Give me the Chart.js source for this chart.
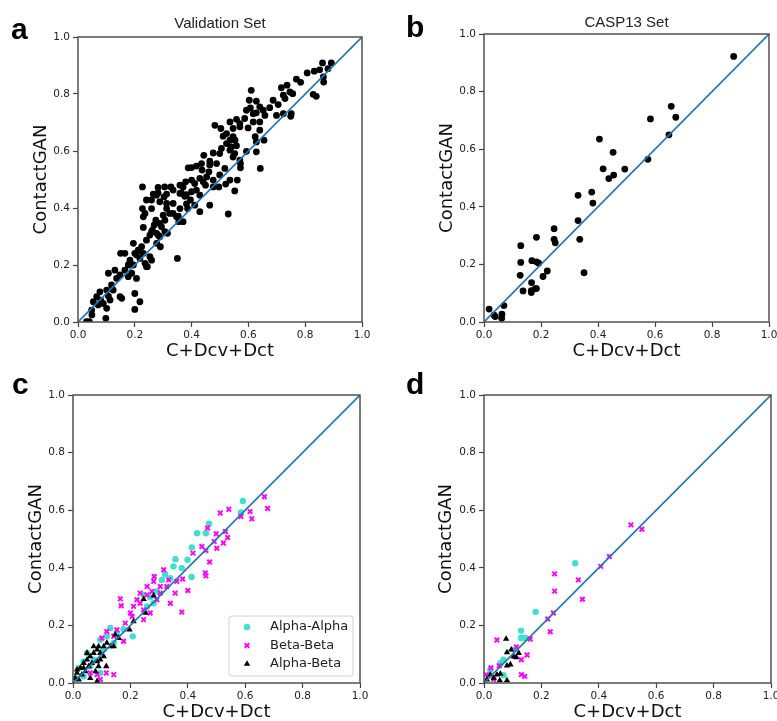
<!DOCTYPE html>
<html><head><meta charset="utf-8">
<script src="https://cdn.jsdelivr.net/npm/chart.js@4"></script>
<style>
html,body{margin:0;padding:0;background:#fff;}
#wrap{position:relative;width:777px;height:721px;overflow:hidden;background:#fff;}
canvas{position:absolute;}
</style></head><body>
<div id="wrap">
<canvas id="ca" width="388" height="360" style="left:0;top:0"></canvas>
<canvas id="cb" width="389" height="360" style="left:388px;top:0"></canvas>
<canvas id="cc" width="388" height="361" style="left:0;top:360px"></canvas>
<canvas id="cd" width="389" height="361" style="left:388px;top:360px"></canvas>
</div>
<script>
// ---------------- DATA ----------------
const tickLabels = ['0.0','0.2','0.4','0.6','0.8','1.0'];
const xAxisTitle = 'C+Dcv+Dct';
const yAxisTitle = 'ContactGAN';
const seriesNames = ['Alpha-Alpha','Beta-Beta','Alpha-Beta'];
const diagonal = [[0,0],[1,1]];

// Panel a: Validation Set
const validationSet = [
[0.861,0.909],[0.892,0.909],[0.832,0.880],[0.807,0.874],[0.851,0.885],[0.880,0.889],[0.769,0.852],[0.784,0.841],[0.736,0.831],[0.716,0.822],[0.723,0.796],[0.746,0.807],[0.729,0.784],[0.756,0.801],[0.828,0.799],[0.839,0.792],[0.865,0.842],[0.864,0.860],
[0.610,0.813],[0.603,0.778],[0.628,0.775],[0.687,0.778],[0.675,0.752],[0.705,0.763],[0.640,0.755],[0.593,0.743],[0.558,0.711],[0.535,0.702],[0.587,0.714],[0.570,0.685],[0.617,0.731],[0.628,0.734],[0.607,0.751],[0.652,0.743],[0.617,0.702],[0.699,0.725],[0.723,0.731],[0.751,0.731],[0.749,0.722],[0.658,0.725],[0.640,0.702],[0.570,0.696],[0.546,0.679],[0.599,0.681],[0.640,0.673],[0.624,0.650],[0.655,0.638],[0.628,0.632],[0.593,0.599],[0.628,0.597],
[0.482,0.690],[0.503,0.679],[0.523,0.661],[0.546,0.650],[0.511,0.652],[0.535,0.638],[0.553,0.638],[0.523,0.626],[0.540,0.614],[0.558,0.618],[0.505,0.609],[0.535,0.603],[0.499,0.591],[0.476,0.593],[0.546,0.579],[0.552,0.591],[0.488,0.556],[0.517,0.539],[0.572,0.556],[0.572,0.541],[0.561,0.498],[0.535,0.498],[0.520,0.484],[0.552,0.460],[0.496,0.474],[0.461,0.527],[0.464,0.564],[0.443,0.585],[0.435,0.556],[0.417,0.547],[0.400,0.542],[0.388,0.541],[0.400,0.498],[0.379,0.492],[0.370,0.474],[0.364,0.453],[0.382,0.447],[0.400,0.457],[0.417,0.463],[0.411,0.486],[0.437,0.533],[0.453,0.509],[0.441,0.492],[0.476,0.498],[0.449,0.480],[0.476,0.474],[0.429,0.504],[0.429,0.445],[0.464,0.410],[0.429,0.387],[0.529,0.379],[0.642,0.539],[0.570,0.568],[0.464,0.551],[0.499,0.516],
[0.396,0.428],[0.382,0.414],[0.411,0.410],[0.386,0.398],[0.359,0.398],[0.353,0.371],[0.370,0.352],[0.355,0.352],[0.323,0.381],[0.312,0.398],[0.335,0.416],[0.312,0.449],[0.282,0.472],[0.276,0.445],[0.288,0.422],[0.303,0.439],[0.259,0.428],[0.241,0.428],[0.259,0.398],[0.300,0.375],[0.306,0.357],[0.288,0.346],[0.294,0.334],[0.268,0.340],[0.262,0.322],[0.274,0.357],[0.259,0.317],[0.253,0.305],[0.236,0.381],[0.227,0.398],[0.230,0.332],[0.227,0.474],[0.277,0.276],[0.290,0.264],[0.288,0.299],[0.241,0.287],[0.224,0.264],[0.212,0.252],[0.206,0.235],[0.200,0.241],[0.230,0.241],[0.218,0.223],[0.241,0.194],[0.236,0.206],[0.165,0.241],[0.150,0.241],[0.195,0.276],[0.183,0.217],[0.177,0.200],[0.195,0.200],[0.189,0.171],[0.177,0.159],[0.206,0.153],[0.165,0.182],[0.148,0.165],[0.130,0.182],[0.136,0.153],[0.118,0.130],[0.107,0.171],[0.124,0.112],[0.101,0.112],[0.113,0.077],[0.101,0.048],[0.098,0.013],[0.107,0.091],[0.077,0.106],[0.066,0.089],[0.080,0.077],[0.089,0.065],[0.071,0.060],[0.054,0.071],[0.048,0.042],[0.049,0.025],[0.030,0.001],[0.040,0.001],[0.154,0.083],[0.148,0.089],[0.200,0.044],[0.218,0.071],[0.200,0.100],[0.253,0.229],[0.259,0.217],[0.244,0.194],[0.350,0.223],[0.230,0.369],[0.265,0.449],[0.282,0.453],[0.335,0.381],[0.347,0.369],[0.335,0.463],[0.359,0.451],[0.376,0.441],[0.327,0.474],[0.305,0.474],[0.359,0.480],[0.312,0.416],[0.315,0.311],[0.284,0.303],[0.277,0.311],[0.306,0.317]
];

// Panel b: CASP13 Set
const casp13Set = [
[0.876,0.922],[0.657,0.749],[0.673,0.711],[0.584,0.705],[0.649,0.650],[0.575,0.565],[0.405,0.635],[0.453,0.589],[0.418,0.532],[0.455,0.510],[0.438,0.498],[0.494,0.531],[0.330,0.440],[0.378,0.451],[0.382,0.413],[0.330,0.352],[0.336,0.287],[0.351,0.171],[0.246,0.324],[0.246,0.287],[0.250,0.275],[0.129,0.265],[0.184,0.294],[0.129,0.207],[0.168,0.213],[0.184,0.209],[0.192,0.204],[0.127,0.162],[0.222,0.177],[0.207,0.158],[0.167,0.137],[0.137,0.108],[0.166,0.109],[0.166,0.102],[0.180,0.116],[0.184,0.116],[0.018,0.045],[0.035,0.024],[0.039,0.019],[0.063,0.027],[0.062,0.013],[0.070,0.057]
];

// Panel c: validation set by contact type
const cAlphaAlpha = [
[0.592,0.632],[0.585,0.592],[0.474,0.553],[0.432,0.520],[0.463,0.520],[0.414,0.471],[0.357,0.430],[0.399,0.428],[0.413,0.368],[0.379,0.399],[0.321,0.378],[0.292,0.318],[0.246,0.306],[0.269,0.298],[0.208,0.162],[0.130,0.191],[0.176,0.187],[0.118,0.162],[0.095,0.150],[0.049,0.104],[0.037,0.075],[0.020,0.052],[0.095,0.035],[0.153,0.173],[0.339,0.364],[0.350,0.405],[0.310,0.358],[0.258,0.266],[0.281,0.277],[0.072,0.081],[0.107,0.116],[0.037,0.023],[0.008,0.017],[0.060,0.058],[0.142,0.139]
];
const cBetaBeta = [
[0.667,0.647],[0.678,0.606],[0.543,0.603],[0.513,0.590],[0.617,0.595],[0.623,0.570],[0.585,0.578],[0.469,0.538],[0.499,0.518],[0.492,0.491],[0.531,0.526],[0.539,0.505],[0.524,0.486],[0.501,0.468],[0.449,0.474],[0.418,0.451],[0.463,0.460],[0.476,0.420],[0.461,0.382],[0.463,0.372],[0.400,0.321],[0.379,0.246],[0.356,0.312],[0.339,0.277],[0.382,0.361],[0.316,0.393],[0.283,0.370],[0.281,0.353],[0.304,0.335],[0.327,0.335],[0.258,0.335],[0.234,0.312],[0.223,0.289],[0.211,0.266],[0.200,0.243],[0.246,0.254],[0.269,0.243],[0.246,0.220],[0.165,0.292],[0.168,0.268],[0.176,0.145],[0.142,0.029],[0.116,0.035],[0.084,0.029],[0.095,0.012],[0.060,0.035],[0.101,0.156],[0.118,0.179],[0.153,0.185],[0.292,0.289],[0.304,0.312],[0.234,0.277],[0.206,0.231],[0.182,0.208],[0.142,0.162],[0.275,0.318],[0.333,0.358],[0.362,0.353],[0.258,0.306]
];
const cAlphaBeta = [
[0.246,0.291],[0.281,0.303],[0.253,0.243],[0.211,0.214],[0.197,0.185],[0.147,0.168],[0.130,0.127],[0.118,0.139],[0.089,0.127],[0.084,0.116],[0.072,0.104],[0.060,0.092],[0.049,0.081],[0.037,0.069],[0.026,0.052],[0.014,0.035],[0.008,0.017],[0.095,0.104],[0.107,0.092],[0.116,0.058],[0.084,0.075],[0.066,0.069],[0.055,0.058],[0.043,0.040],[0.031,0.029],[0.078,0.040],[0.060,0.017],[0.084,0.006],[0.142,0.127],[0.159,0.156],[0.095,0.081],[0.072,0.127],[0.049,0.104],[0.020,0.012],[0.037,0.052],[0.107,0.127],[0.014,0.046],[0.089,0.058]
];

// Panel d: CASP13 set by contact type
const dAlphaAlpha = [
[0.318,0.416],[0.180,0.247],[0.129,0.182],[0.129,0.156],[0.144,0.156],[0.068,0.081],[0.057,0.069],[0.068,0.027],[0.103,0.116],[0.022,0.046]
];
const dBetaBeta = [
[0.512,0.549],[0.550,0.534],[0.437,0.439],[0.407,0.405],[0.246,0.379],[0.329,0.358],[0.246,0.319],[0.343,0.291],[0.242,0.243],[0.222,0.222],[0.231,0.178],[0.161,0.153],[0.113,0.125],[0.150,0.097],[0.130,0.081],[0.130,0.029],[0.142,0.023],[0.045,0.149],[0.024,0.053],[0.053,0.060],[0.008,0.029],[0.034,0.012],[0.107,0.092]
];
const dAlphaBeta = [
[0.077,0.153],[0.080,0.106],[0.095,0.116],[0.103,0.092],[0.113,0.089],[0.092,0.064],[0.080,0.060],[0.057,0.032],[0.045,0.029],[0.034,0.017],[0.010,0.012],[0.055,0.009],[0.080,0.009],[0.022,0.029],[0.121,0.104]
];

// ---------------- RENDERING ----------------
Chart.defaults.font.family = '"DejaVu Sans", sans-serif';
const toXY = arr => arr.map(([x, y]) => ({x, y}));

const framePlugin = {
  id: 'axesFrame',
  afterDatasetsDraw(chart) {
    const {ctx, chartArea: a} = chart;
    ctx.save();
    ctx.strokeStyle = '#505050';
    ctx.lineWidth = 1.5;
    ctx.strokeRect(a.left, a.top, a.right - a.left, a.bottom - a.top);
    ctx.restore();
  }
};

const letterPlugin = {
  id: 'panelLetter',
  afterDraw(chart, args, opts) {
    if (!opts || !opts.text) return;
    const ctx = chart.ctx;
    ctx.save();
    ctx.fillStyle = '#000';
    ctx.font = 'bold ' + opts.size + 'px "Liberation Sans", Arial, sans-serif';
    ctx.textBaseline = 'alphabetic';
    ctx.textAlign = 'left';
    ctx.fillText(opts.text, opts.x, opts.y);
    ctx.restore();
  }
};

const boxLegendPlugin = {
  id: 'boxLegend',
  afterDraw(chart, args, opts) {
    if (!opts || !opts.show) return;
    const ctx = chart.ctx, a = chart.chartArea;
    const items = chart.data.datasets.filter(d => d.label);
    const x0 = a.right - opts.marginRight - opts.width;
    const y0 = a.bottom - opts.marginBottom - opts.height;
    ctx.save();
    ctx.beginPath();
    ctx.roundRect(x0, y0, opts.width, opts.height, 3);
    ctx.fillStyle = 'rgba(255,255,255,0.85)';
    ctx.fill();
    ctx.strokeStyle = '#d0d0d0';
    ctx.lineWidth = 1;
    ctx.stroke();
    items.forEach((ds, i) => {
      const cy = y0 + opts.firstRow + i * opts.rowHeight;
      ctx.fillStyle = ds.backgroundColor;
      ctx.strokeStyle = ds.borderColor;
      ctx.lineWidth = ds.borderWidth || 1;
      Chart.helpers.drawPoint(ctx, {pointStyle: ds.pointStyle, radius: ds.pointRadius, rotation: 0, borderWidth: ds.borderWidth}, x0 + opts.markerX, cy);
      ctx.fillStyle = '#222';
      ctx.font = '13px "DejaVu Sans", sans-serif';
      ctx.textBaseline = 'middle';
      ctx.textAlign = 'left';
      ctx.fillText(ds.label, x0 + opts.textX, cy);
    });
    ctx.restore();
  }
};

function guideDataset() {
  return {data: toXY(diagonal), showLine: true, pointRadius: 0, borderColor: '#1f77b4', borderWidth: 1.6, order: 0, clip: 0};
}
function blackDots(points) {
  return {data: toXY(points), pointStyle: 'circle', pointRadius: 3.4, backgroundColor: '#000', borderColor: '#000', borderWidth: 0, showLine: false, order: 1, clip: 0};
}
function typedDatasets(aa, bb, ab) {
  return [
    {label: seriesNames[0], data: toXY(aa), pointStyle: 'circle', pointRadius: 3.2, backgroundColor: '#40e0d0', borderColor: '#40e0d0', borderWidth: 0, showLine: false, order: 3, clip: 0},
    {label: seriesNames[1], data: toXY(bb), pointStyle: 'crossRot', pointRadius: 3.2, backgroundColor: '#ff00ff', borderColor: '#ff00ff', borderWidth: 2, showLine: false, order: 2, clip: 0},
    {label: seriesNames[2], data: toXY(ab), pointStyle: 'triangle', pointRadius: 3.7, backgroundColor: '#000', borderColor: '#000', borderWidth: 0, showLine: false, order: 1, clip: 0},
    guideDataset()
  ];
}

function axis(kind, L) {
  const horiz = kind === 'x';
  return {
    type: 'linear', min: 0, max: 1,
    ticks: {stepSize: 0.2, autoSkip: false, maxRotation: 0, color: '#222', font: {size: 10.5}, padding: horiz ? 2 : 3,
            callback: (v, i) => tickLabels[i]},
    grid: {display: true, drawOnChartArea: false, drawTicks: true, tickLength: 5, color: '#444', tickWidth: 1.2},
    border: {display: false},
    title: {display: true, text: horiz ? xAxisTitle : yAxisTitle, color: '#111', font: {size: 18, lineHeight: 1},
            padding: horiz ? {top: 0, bottom: L.xTitlePad} : {top: L.yTitlePad, bottom: 0}},
    afterFit(s) {
      if (horiz) { s.height = L.xAxisHeight; s.paddingLeft = 0; s.paddingRight = 0; }
      else { s.width = L.yAxisWidth; s.paddingTop = 0; s.paddingBottom = 0; }
    }
  };
}

function makePanel(id, datasets, L) {
  new Chart(document.getElementById(id), {
    type: 'scatter',
    data: {datasets},
    options: {
      responsive: false, animation: false, events: [],
      layout: {padding: {top: L.padTop, right: L.padRight, left: 0, bottom: 0}},
      scales: {x: axis('x', L), y: axis('y', L)},
      plugins: {
        legend: {display: false}, tooltip: {enabled: false},
        title: L.title ? {display: true, text: L.title, fullSize: false, color: '#222',
                 font: {family: '"Liberation Sans", Arial, sans-serif', size: 15, weight: 'normal', lineHeight: 1.2},
                 padding: {top: L.titleTop, bottom: L.titleBottom}} : {display: false},
        panelLetter: {text: L.letter, x: L.letterX, y: L.letterY, size: 30},
        boxLegend: L.legend || {show: false}
      }
    },
    plugins: [framePlugin, letterPlugin, boxLegendPlugin]
  });
}

makePanel('ca', [guideDataset(), blackDots(validationSet)],
  {letter: 'a', letterX: 11, letterY: 39, title: 'Validation Set', titleTop: 14.5, titleBottom: 4.5, padTop: 0, padRight: 26,
   yAxisWidth: 78, xAxisHeight: 38, yTitlePad: 32, xTitlePad: 0});
makePanel('cb', [guideDataset(), blackDots(casp13Set)],
  {letter: 'b', letterX: 18, letterY: 37, title: 'CASP13 Set', titleTop: 13.7, titleBottom: 2.3, padTop: 0, padRight: 8,
   yAxisWidth: 96, xAxisHeight: 38, yTitlePad: 50, xTitlePad: 0});
makePanel('cc', typedDatasets(cAlphaAlpha, cBetaBeta, cAlphaBeta),
  {letter: 'c', letterX: 12, letterY: 34, padTop: 35, padRight: 28,
   yAxisWidth: 73, xAxisHeight: 38, yTitlePad: 27, xTitlePad: 0,
   legend: {show: true, width: 124, height: 60, marginRight: 7, marginBottom: 7, markerX: 18, textX: 41, firstRow: 11, rowHeight: 18.5}});
makePanel('cd', typedDatasets(dAlphaAlpha, dBetaBeta, dAlphaBeta),
  {letter: 'd', letterX: 18, letterY: 34, padTop: 35, padRight: 6,
   yAxisWidth: 96, xAxisHeight: 38, yTitlePad: 49, xTitlePad: 0});
</script>
</body></html>
